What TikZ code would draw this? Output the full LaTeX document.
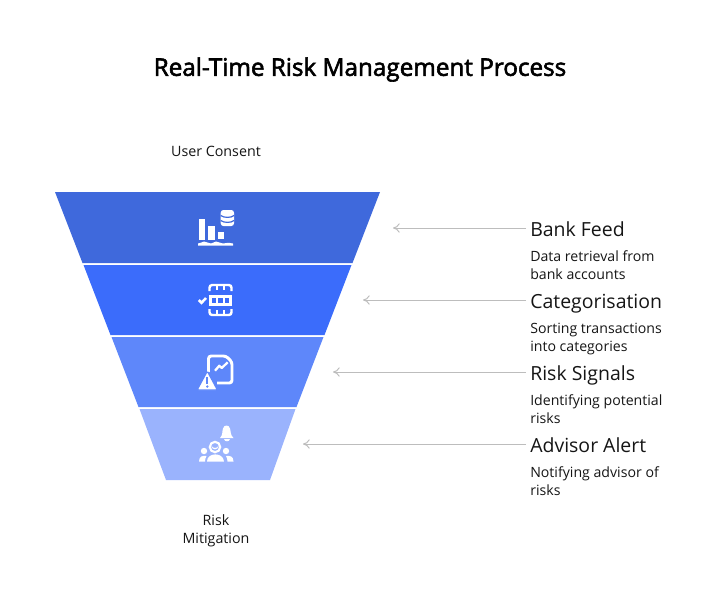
\documentclass[tikz,border=0pt]{standalone}
\usepackage{fontspec}
\setmainfont{Open Sans}
\newfontfamily\titlefont[FakeBold=2.4]{Open Sans}
\usetikzlibrary{arrows.meta}
\definecolor{bandA}{HTML}{3F69DC}
\definecolor{bandB}{HTML}{3B6CFB}
\definecolor{bandC}{HTML}{5E87FA}
\definecolor{bandD}{HTML}{9AB3FD}
\definecolor{inkText}{HTML}{151515}
\definecolor{arrowGray}{HTML}{BDBDBD}
\tikzset{
  heading/.style={anchor=base west, inner sep=0pt, font=\fontsize{14.6}{18}\selectfont, text=inkText},
  detail/.style={anchor=north west, inner sep=0pt, align=left, font=\fontsize{10.6}{13.5}\selectfont, text=inkText},
  caption/.style={align=center, inner sep=0pt, font=\fontsize{10.7}{13.5}\selectfont, text=inkText},
  pointer/.style={arrowGray, line width=0.75pt, -{To[length=5pt,width=7pt]}, shorten <=3pt},
  iconline/.style={white, line width=1.8pt},
}
\begin{document}
\begin{tikzpicture}[x=0.75pt,y=-0.75pt]
  \useasboundingbox (0,0) rectangle (720,612);

  \node[inner sep=0pt, font=\fontsize{18.2}{22}\titlefont, text=black] (title) at (360,69.5) {Real-Time Risk Management Process};
  \node[caption] (consent) at (216,151.5) {User Consent};
  \node[caption] (mitigation) at (216,531) {Risk\\Mitigation};

  % Funnel
  \foreach \c/\xa/\xb/\xc/\xd/\ya/\yb in {bandA/55/380/352.5/82.5/192/263, bandB/83.5/351.5/324.5/110.5/265/335, bandC/111.5/323.5/296.5/138.5/337/407, bandD/139.5/295.5/270/166/409/480} {
    \fill[\c] (\xa,\ya) -- (\xb,\ya) -- (\xc,\yb) -- (\xd,\yb) -- cycle;
  }

  % Labels
  \foreach \n/\t/\d/\x/\y in {bank/Bank Feed/{Data retrieval from\\bank accounts}/393/229, cat/Categorisation/{Sorting transactions\\into categories}/363/301, signal/Risk Signals/{Identifying potential\\risks}/333/373, alert/Advisor Alert/{Notifying advisor of\\risks}/303/445} {
    \node[heading] (\n) at (530,\y+7) {\t};
    \node[detail] (\n text) at (530,\y+21.5) {\d};
    \coordinate (\n tip) at (\x,\y-1);
    \draw[pointer] (\n tip -| \n.west) -- (\n tip);
  }

  % Bank Feed icon
  \fill[white] (198.5,219) rectangle (205,239.5);
  \fill[white] (208,225.5) rectangle (214.5,239.5);
  \fill[white] (217.5,231.5) rectangle (224,239);
  \fill[white] (198,245.5) -- (198,243.5) .. controls (201,243.5) and (202,241.5) .. (204,241.5) .. controls (207,241.5) and (208,243.5) .. (211,243.5) .. controls (213,243.5) and (214,241.5) .. (216,241.5) .. controls (219,241.5) and (220,243.5) .. (223,243.5) .. controls (226,243.5) and (227,242) .. (233,243.5) -- (233,245.5) -- cycle;
  \fill[white, rounded corners=2pt] (220.7,210) rectangle (234,226);
  \draw[bandA, line width=0.9pt] (220.7,215.5) .. controls (224,218) and (231,218) .. (234,215.5);
  \draw[bandA, line width=0.9pt] (220.7,220.5) .. controls (224,223) and (231,223) .. (234,220.5);

  % Categorisation icon
  \draw[iconline, rounded corners=2pt] (209.5,291) -- (209.5,285) -- (231.5,285) -- (231.5,291);
  \draw[iconline] (217,285) -- (217,290) (224,285) -- (224,290);
  \draw[iconline] (210.5,296.5) rectangle (230.5,304.5);
  \draw[iconline] (217,296.5) -- (217,304.5) (224,296.5) -- (224,304.5);
  \draw[iconline, rounded corners=2pt] (209.5,309) -- (209.5,315) -- (231.5,315) -- (231.5,309);
  \draw[iconline] (217,310) -- (217,315) (224,310) -- (224,315);
  \draw[white, line width=1.9pt] (198.8,300) -- (201.5,302.8) -- (206,298);

  % Risk Signals icon
  \draw[iconline, line width=2.2pt, rounded corners=2pt] (208.5,372) -- (208.5,356) -- (226,356) -- (232,362) -- (232,383) -- (217,383);
  \draw[white, line width=1.7pt, line join=round] (215,370.7) -- (219.3,365.7) -- (221.7,368) -- (227.7,362.3);
  \fill[white, draw=bandC, line width=1pt, rounded corners=1pt] (197,390) -- (207.3,371) -- (217.5,390) -- cycle;
  \fill[bandC] (206.2,377) rectangle (208.4,384);
  \fill[bandC] (207.3,386.5) circle (1.3);

  % Advisor Alert icon
  \fill[white] (220,438) .. controls (223,435) and (222,431) .. (223,428.5) .. controls (224,424.5) and (229,424.5) .. (230,428.5) .. controls (231,431) and (230,435) .. (233.5,438) -- cycle;
  \fill[white] (224,439) -- (230,439) .. controls (229.5,442) and (224.5,442) .. (224,439) -- cycle;
  \draw[white, line width=1.6pt] (215,447) circle (5.2);
  \fill[white] (211.5,446) .. controls (213,448.5) and (217,448.5) .. (218.5,446) .. controls (218,450.5) and (212,450.5) .. (211.5,446) -- cycle;
  \fill[white] (207,461.5) .. controls (207,452) and (223.5,452) .. (224,461.5) -- cycle;
  \fill[white] (204,451) circle (3.2);
  \fill[white] (226,451) circle (3.2);
  \fill[white] (199,461.5) .. controls (199,456) and (203,455.5) .. (206.5,456) .. controls (205.5,458) and (205,459.5) .. (205,461.5) -- cycle;
  \fill[white] (233.5,461.5) .. controls (233.5,456) and (229.5,455.5) .. (226,456) .. controls (227,458) and (227.5,459.5) .. (227.5,461.5) -- cycle;
\end{tikzpicture}
\end{document}
